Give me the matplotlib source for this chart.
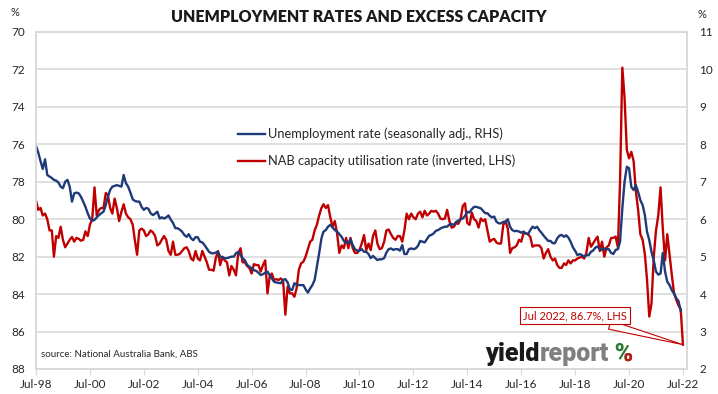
# %% Imports

import pandas as pd
import numpy as np
import matplotlib
matplotlib.use('Agg')
import matplotlib.pyplot as plt
from matplotlib.transforms import Bbox, Affine2D
from matplotlib.textpath import TextPath
from matplotlib.patches import PathPatch
from matplotlib.font_manager import FontProperties

plt.rcParams['font.family'] = ['Lato', 'DejaVu Sans']

# %% Data (monthly, starting Jul 1998)

# Unemployment rate, seasonally adjusted (RHS), Jul-98 .. Jun-22
unemployment = [
    7.96, 7.78, 7.55, 7.34, 7.6, 7.18, 7.14, 7.1, 7.05, 7.03, 6.98, 6.87,
    6.83, 7.0, 7.05, 6.87, 6.47, 6.69, 6.71, 6.69, 6.6, 6.47, 6.33, 6.16,
    6.02, 5.96, 5.98, 6.05, 6.11, 6.16, 6.2, 6.38, 6.6, 6.78, 6.87, 6.89,
    6.91, 6.89, 6.87, 7.18, 6.96, 6.87, 6.71, 6.53, 6.49, 6.47, 6.47, 6.33,
    6.25, 6.3, 6.28, 6.16, 6.11, 6.15, 6.2, 6.02, 6.05, 6.02, 6.05, 6.1,
    5.99, 5.9, 5.76, 5.76, 5.72, 5.67, 5.58, 5.53, 5.6, 5.49, 5.44, 5.52,
    5.52, 5.4, 5.38, 5.31, 5.22, 5.13, 5.09, 5.09, 5.11, 5.13, 5.0, 4.98,
    4.96, 4.96, 4.98, 5.0, 5.0, 5.09, 5.13, 5.04, 4.96, 4.9, 4.78, 4.73,
    4.69, 4.64, 4.62, 4.57, 4.51, 4.53, 4.57, 4.6, 4.51, 4.42, 4.33, 4.31,
    4.3, 4.29, 4.38, 4.4, 4.31, 4.13, 4.11, 4.29, 4.25, 4.24, 4.24, 4.24,
    4.13, 4.04, 4.15, 4.24, 4.38, 4.73, 5.09, 5.49, 5.67, 5.71, 5.8, 5.85,
    5.78, 5.71, 5.67, 5.6, 5.53, 5.42, 5.38, 5.36, 5.47, 5.31, 5.2, 5.16,
    5.16, 5.2, 5.13, 5.13, 5.07, 4.96, 5.02, 4.96, 4.91, 4.93, 4.93, 4.96,
    5.11, 5.2, 5.22, 5.18, 5.2, 5.2, 5.16, 5.31, 5.07, 5.07, 5.2, 5.22,
    5.2, 5.22, 5.29, 5.42, 5.4, 5.38, 5.47, 5.56, 5.58, 5.62, 5.69, 5.71,
    5.75, 5.78, 5.8, 5.8, 5.86, 5.87, 5.85, 5.93, 5.96, 6.0, 6.02, 6.09,
    6.2, 6.18, 6.27, 6.33, 6.33, 6.31, 6.29, 6.22, 6.16, 6.16, 6.09, 6.05,
    6.07, 5.93, 5.89, 5.89, 5.93, 5.92, 6.0, 5.8, 5.71, 5.68, 5.69, 5.67,
    5.64, 5.67, 5.62, 5.6, 5.71, 5.8, 5.76, 5.8, 5.71, 5.64, 5.56, 5.49,
    5.42, 5.42, 5.36, 5.36, 5.49, 5.56, 5.58, 5.53, 5.57, 5.51, 5.4, 5.25,
    5.16, 5.04, 5.07, 5.04, 5.0, 5.04, 5.04, 5.13, 5.16, 5.24, 5.27, 5.2,
    5.18, 5.22, 5.2, 5.2, 5.1, 5.07, 5.18, 5.2, 5.4, 6.29, 7.0, 7.4,
    7.36, 6.86, 6.78, 6.91, 6.73, 6.51, 6.38, 6.1, 5.67, 5.44, 5.13, 4.9,
    4.6, 4.52, 4.55, 5.1, 4.6, 4.33, 4.24, 4.1, 4.02, 3.89, 3.82, 3.55,
]

# NAB capacity utilisation rate (LHS, inverted), Jul-98 .. Jul-22
capacity = [
    79.0, 79.5, 79.4, 79.8, 79.7, 80.0, 80.6, 80.6, 82.0, 80.9, 81.0, 80.4,
    81.1, 81.5, 81.3, 81.1, 80.95, 81.2, 81.0, 81.05, 81.15, 81.1, 80.65, 80.9,
    80.3, 80.0, 78.3, 79.8, 79.5, 79.4, 79.4, 78.6, 78.7, 79.4, 79.7, 78.9,
    79.4, 80.1, 79.6, 79.2, 79.7, 79.9, 80.0, 80.3, 81.1, 81.9, 80.6, 80.5,
    80.6, 80.9, 80.8, 80.6, 80.7, 80.9, 81.4, 81.3, 81.1, 80.9, 81.1, 81.7,
    81.9, 81.2, 81.9, 81.9, 81.85, 81.7, 81.55, 81.5, 81.7, 82.1, 82.2, 81.7,
    82.1, 82.2, 81.7, 82.0, 82.3, 82.7, 82.7, 82.75, 82.1, 81.7, 82.45, 82.0,
    82.2, 82.3, 83.0, 82.5, 82.7, 83.0, 81.8, 81.55, 82.3, 82.3, 82.5, 82.6,
    82.9, 82.4, 82.45, 82.45, 82.8, 82.45, 82.2, 83.96, 83.1, 82.9, 83.25, 83.2,
    83.25, 83.16, 83.3, 85.1, 83.6, 83.96, 83.96, 84.14, 83.7, 82.7, 82.36, 82.27,
    82.0, 81.6, 81.2, 81.1, 80.6, 80.3, 79.8, 79.4, 79.2, 79.4, 79.25, 79.9,
    80.4, 80.1, 80.75, 81.8, 81.4, 81.55, 81.0, 81.55, 81.0, 81.55, 81.8, 81.8,
    81.65, 81.3, 80.85, 81.65, 81.3, 81.65, 80.9, 80.6, 81.3, 81.6, 81.55, 81.2,
    80.6, 80.55, 80.8, 81.0, 81.1, 80.9, 80.9, 81.2, 80.6, 79.7, 80.0, 79.7,
    79.9, 80.0, 79.7, 79.6, 79.9, 79.55, 79.8, 79.7, 79.55, 79.6, 79.55, 79.7,
    79.96, 80.0, 79.96, 79.5, 80.1, 80.45, 80.4, 80.2, 80.25, 80.0, 79.3, 79.15,
    80.2, 80.3, 79.65, 80.0, 80.1, 80.45, 79.96, 80.1, 80.0, 80.6, 81.2, 81.1,
    81.05, 81.25, 81.3, 81.3, 80.3, 80.1, 80.5, 81.8, 81.55, 81.5, 81.4, 81.1,
    81.2, 80.75, 80.75, 80.8, 80.95, 81.47, 81.4, 81.4, 81.4, 81.55, 82.1, 81.8,
    81.6, 82.0, 82.2, 82.1, 82.45, 82.6, 82.6, 82.36, 82.45, 82.2, 82.36, 82.2,
    82.2, 82.1, 82.05, 82.0, 82.1, 81.8, 81.0, 81.47, 81.3, 81.1, 80.93, 81.7,
    81.2, 82.0, 81.5, 81.4, 81.0, 81.0, 80.93, 81.5, 78.0, 71.9, 73.5, 76.3,
    76.75, 76.4, 76.9, 78.5, 79.5, 80.8, 81.1, 81.9, 83.2, 85.2, 84.5, 82.0,
    80.6, 79.8, 78.3, 80.5, 82.2, 80.8, 81.9, 83.0, 83.9, 84.3, 84.6, 84.8,
    86.7,
]

x_tick_labels = ['Jul-98', 'Jul-00', 'Jul-02', 'Jul-04', 'Jul-06', 'Jul-08', 'Jul-10',
                 'Jul-12', 'Jul-14', 'Jul-16', 'Jul-18', 'Jul-20', 'Jul-22']

dates_u = pd.date_range('1998-07-01', periods=len(unemployment), freq='MS')
dates_c = pd.date_range('1998-07-01', periods=len(capacity), freq='MS')
x_ticks = pd.date_range('1998-07-01', periods=len(x_tick_labels), freq='24MS')

# %% Plot

red = '#C00000'
blue = '#1F3A78'
grid_col = '#d9d9d9'
txt_col = '#262626'

fig = plt.figure(figsize=(7.18, 3.94), dpi=100, facecolor='w')
ax = fig.add_axes([0.0501, 0.0635, 0.9067, 0.8553])
ax2 = ax.twinx()

ax.plot(dates_c, capacity, color=red, lw=1.7)
ax2.plot(dates_u, unemployment, color=blue, lw=1.7)

ax.set_ylim(88, 70)
ax.set_yticks(range(70, 89, 2))
ax2.set_ylim(2, 11)
ax2.set_yticks(range(2, 12))
ax.set_xlim(pd.Timestamp('1998-07-01'), pd.Timestamp('2022-08-25'))
ax.set_xticks(x_ticks)
ax.set_xticklabels(x_tick_labels)

ax.grid(axis='y', color=grid_col, lw=1.2)
ax.set_axisbelow(True)

for a in (ax, ax2):
    for s in a.spines.values():
        s.set_color(grid_col)
        s.set_linewidth(1.2)

ax.tick_params(axis='y', length=0, pad=8, labelsize=8.5, labelcolor=txt_col)
ax.tick_params(axis='x', length=4, color=grid_col, pad=3, labelsize=8.5, labelcolor=txt_col)
ax2.tick_params(axis='y', length=0, pad=9, labelsize=8.5, labelcolor=txt_col)

# legend
h_u, = ax2.plot([], [], color=blue, lw=1.7)
h_c, = ax2.plot([], [], color=red, lw=1.7)
ax2.legend([h_u, h_c],
           ['Unemployment rate (seasonally adj., RHS)', 'NAB capacity utilisation rate (inverted, LHS)'],
           loc='upper left', bbox_to_anchor=(0.292, 0.75), frameon=False, fontsize=9.3,
           handlelength=2.1, handletextpad=0.25, labelspacing=1.1, labelcolor=txt_col)

# annotation of last point
ax.annotate('Jul 2022, 86.7%, LHS', xy=(dates_c[-1], capacity[-1]),
            xytext=(pd.Timestamp('2018-07-01'), 85.15), ha='center', va='center',
            fontsize=8, color=red, zorder=5,
            bbox=dict(boxstyle='square,pad=0.3', fc='white', ec=red, lw=0.8),
            arrowprops=dict(arrowstyle='wedge,tail_width=0.8,shrink_factor=0.5',
                            fc='white', ec=red, lw=0.8, relpos=(0.7, 0.0),
                            shrinkA=0, shrinkB=0))

ax.text(0.007, 0.03, 'source: National Australia Bank, ABS', transform=ax.transAxes,
        fontsize=7, color=txt_col, ha='left', va='bottom')

# title and axis units
fig.text(0.5, 0.957, 'UNEMPLOYMENT RATES AND EXCESS CAPACITY', ha='center', va='center',
         fontsize=11.5, fontweight='heavy', color='#1a1a1a')
fig.text(15 / 718, 1 - 12 / 394, '%', ha='center', va='center', fontsize=8, color=txt_col)
fig.text(702 / 718, 1 - 14 / 394, '%', ha='center', va='center', fontsize=8, color=txt_col)

# logo
fig.canvas.draw()
rend = fig.canvas.get_renderer()
logo_font = ['Roboto', 'DejaVu Sans']
lx, ly = 485 / 718, 1 - 361 / 394
t1 = fig.text(lx, ly, 'yield', fontsize=18, fontweight='black', color='#1a1a1a',
              family=logo_font, ha='left', va='baseline')
w1 = t1.get_window_extent(rend).width / 718
t2 = fig.text(lx + w1, ly, 'report', fontsize=18, fontweight='black', color='#7f7f7f',
              family=logo_font, ha='left', va='baseline')
w2 = t2.get_window_extent(rend).width / 718

# the % sign: green, with its lower-right ring in red
px_pix = (lx + w1 + w2) * 718 + 6
py_pix = ly * 394
pct_path = TextPath((0, 0), '%', size=18 * 100 / 72,
                    prop=FontProperties(family='Roboto', weight='black'))
pct_tr = Affine2D().translate(px_pix, py_pix)
fig.add_artist(PathPatch(pct_path, fc='#2e7d32', ec='none', transform=pct_tr))
red_pct = PathPatch(pct_path, fc='#c0171d', ec='none', transform=pct_tr)
pb = pct_path.get_extents()
red_pct.set_clip_box(Bbox.from_extents(px_pix + pb.x0 + 0.55 * pb.width, py_pix - 5,
                                       px_pix + pb.x1 + 5, py_pix + 0.45 * pb.height))
fig.add_artist(red_pct)

fig.savefig('out.png', dpi=100, facecolor='w')
